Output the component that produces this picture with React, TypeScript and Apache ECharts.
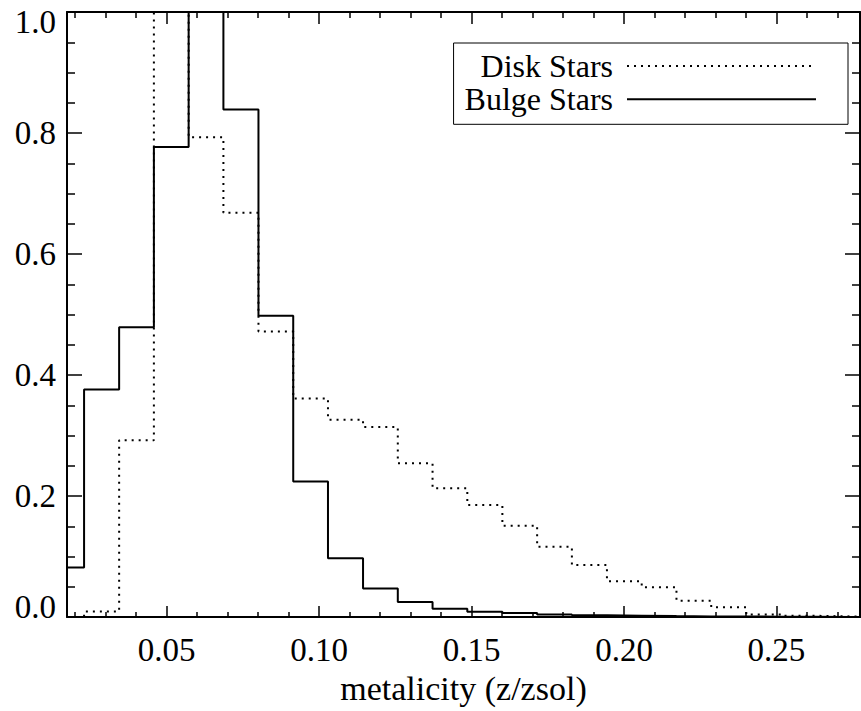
import React, { useEffect, useRef } from "react";
import * as echarts from "echarts";

// Histogram bin left edges (z/zsol)
const binEdges = [0.0115, 0.0229, 0.0344, 0.0458, 0.0572, 0.0686, 0.0801, 0.0915, 0.1029, 0.1144, 0.1258, 0.1372, 0.1486, 0.1601, 0.1715, 0.1829, 0.1944, 0.2058, 0.2172, 0.2286, 0.2401, 0.2515, 0.2629, 0.2743, 0.2858];
const diskStars = [0, 0.009, 0.292, 1.1, 0.793, 0.668, 0.472, 0.361, 0.326, 0.314, 0.254, 0.213, 0.185, 0.151, 0.116, 0.086, 0.059, 0.049, 0.027, 0.016, 0.004, 0.002, 0.001, 0.0005];
const bulgeStars = [0.082, 0.376, 0.479, 0.777, 1.08, 0.839, 0.498, 0.224, 0.097, 0.047, 0.025, 0.0135, 0.0087, 0.0065, 0.0042, 0.003, 0.0022, 0.0015, 0.001, 0.0008, 0.0005, 0.0003, 0.0002, 0.0001];

const xMajorTicks = [0.05, 0.1, 0.15, 0.2, 0.25];
const xMinorTicks = [0.02, 0.03, 0.04, 0.06, 0.07, 0.08, 0.09, 0.11, 0.12, 0.13, 0.14, 0.16, 0.17, 0.18, 0.19, 0.21, 0.22, 0.23, 0.24, 0.26, 0.27];
const X_MIN = 0.0173;
const X_MAX = 0.2774;

const FONT = "'Liberation Serif', 'Times New Roman', serif";

function stepData(values: number[]) {
  const pts: [number, number][] = values.map((v, i) => [binEdges[i], v]);
  pts.push([binEdges[values.length], values[values.length - 1]]);
  return pts;
}

export default function App() {
  const ref = useRef<HTMLDivElement>(null);
  useEffect(() => {
    document.body.style.margin = "0";
    if (!ref.current) return;
    const chart = echarts.init(ref.current, null, { renderer: "svg" });
    const axisLine = { show: true, lineStyle: { color: "#000", width: 2 } };
    const xBase = { type: "value", min: X_MIN, max: X_MAX, splitLine: { show: false } };
    const yBase = {
      type: "value", min: 0, max: 1, interval: 0.2,
      splitLine: { show: false },
      axisLine,
      axisTick: { show: true, inside: true, length: 15, lineStyle: { color: "#000", width: 1.5 } },
      minorTick: { show: true, splitNumber: 4, length: 8, lineStyle: { color: "#000", width: 1.5 } },
      minorSplitLine: { show: false },
    };
    chart.setOption({
      animation: false,
      backgroundColor: "#fff",
      grid: { left: 67, right: 1, top: 12, bottom: 94, containLabel: false },
      legend: {
        data: ["Disk Stars", "Bulge Stars"],
        orient: "vertical",
        align: "right",
        right: 13,
        top: 43,
        itemWidth: 189,
        itemHeight: 14,
        itemGap: 1.3,
        padding: [7, 31, 9, 11],
        borderColor: "#000",
        borderWidth: 1,
        backgroundColor: "#fff",
        itemStyle: { opacity: 0 },
        textStyle: { fontFamily: FONT, fontSize: 32, color: "#000", lineHeight: 32, padding: [0, 9, 0, 0] },
      },
      xAxis: [
        {
          ...xBase,
          position: "bottom",
          axisLine,
          axisTick: { show: true, inside: true, length: 11, customValues: xMajorTicks, lineStyle: { color: "#000", width: 1.5 } },
          axisLabel: {
            customValues: xMajorTicks,
            formatter: (v: number) => v.toFixed(2),
            margin: 16,
            fontFamily: FONT, fontSize: 33, color: "#000",
          },
          name: "metalicity (z/zsol)",
          nameLocation: "middle",
          nameGap: 54,
          nameTextStyle: { fontFamily: FONT, fontSize: 34, color: "#000" },
        },
        {
          ...xBase,
          position: "bottom",
          axisLine: { show: false },
          axisTick: { show: true, inside: true, length: 5, customValues: xMinorTicks, lineStyle: { color: "#000", width: 1.5 } },
          axisLabel: { show: false },
        },
        {
          ...xBase,
          position: "top",
          axisLine,
          axisTick: { show: true, inside: true, length: 12, customValues: xMajorTicks, lineStyle: { color: "#000", width: 1.5 } },
          axisLabel: { show: false },
        },
        {
          ...xBase,
          position: "top",
          axisLine: { show: false },
          axisTick: { show: true, inside: true, length: 6, customValues: xMinorTicks, lineStyle: { color: "#000", width: 1.5 } },
          axisLabel: { show: false },
        },
      ],
      yAxis: [
        {
          ...yBase,
          position: "left",
          axisLabel: {
            formatter: (v: number) => v.toFixed(1),
            margin: 11,
            lineHeight: 20,
            verticalAlignMaxLabel: "top",
            verticalAlignMinLabel: "bottom",
            fontFamily: FONT, fontSize: 33, color: "#000",
          },
        },
        {
          ...yBase,
          position: "right",
          axisLabel: { show: false },
        },
      ],
      series: [
        {
          name: "Disk Stars",
          type: "line",
          step: "end",
          symbol: "none",
          clip: true,
          data: stepData(diskStars),
          lineStyle: { color: "#000", width: 2, type: [2, 5] },
          itemStyle: { color: "#000" },
        },
        {
          name: "Bulge Stars",
          type: "line",
          step: "end",
          symbol: "none",
          clip: true,
          data: stepData(bulgeStars),
          lineStyle: { color: "#000", width: 2, type: "solid" },
          itemStyle: { color: "#000" },
        },
      ],
    });
    return () => chart.dispose();
  }, []);
  return <div ref={ref} style={{ width: 861, height: 711 }} />;
}
